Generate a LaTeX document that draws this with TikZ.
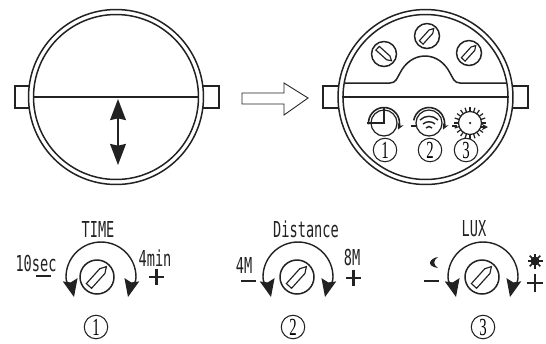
\documentclass[tikz,border=0pt]{standalone}
\usepackage{xcolor}
\usepackage{fontspec}
\usepackage{tikz}
\usetikzlibrary{arrows.meta}
\definecolor{inkcolor}{HTML}{222222}
\newfontfamily\labelfont[FakeStretch=0.62]{DejaVu Sans Mono}
\newfontfamily\digitfont[FakeStretch=0.6]{Liberation Serif}
\tikzset{
  ring/.style={draw=inkcolor, circle, line width=0.85pt, fill=white, inner sep=0pt},
  tabbox/.style={draw=inkcolor, rectangle, line width=0.65pt, minimum width=0.44cm, minimum height=0.44cm, inner sep=0pt},
  knob/.style={ring, minimum size=0.68cm},
  screw/.style={ring, minimum size=0.5cm},
  minidial/.style={ring, minimum size=0.52cm, line width=0.7pt},
  numbered/.style={draw=inkcolor, circle, line width=0.6pt, minimum size=0.47cm, inner sep=0pt, font=\digitfont\fontsize{14pt}{14pt}\selectfont},
  label/.style={inner sep=0pt, text=inkcolor, font=\labelfont\fontsize{12.5pt}{12.5pt}\selectfont},
  knobarc/.style={draw=inkcolor, line width=0.8pt, {Stealth[length=10pt,width=8.5pt,inset=1.5pt]}-{Stealth[length=10pt,width=8.5pt,inset=1.5pt]}},
  minicurve/.style={draw=inkcolor, line width=0.9pt, -{Stealth[length=3.5pt,width=3.5pt]}},
  slot/.pic={\draw[draw=inkcolor, line width=0.65pt] (-12,-3.5) -- (8,-3.5) -- (14,0) -- (8,3.5) -- (-12,3.5) -- cycle;},
}
\begin{document}
\begin{tikzpicture}[x=0.02cm, y=-0.02cm]
\useasboundingbox (0,0) rectangle (546,343);
\node[tabbox] (lefttaba) at (26,97) {};
\node[tabbox] (lefttabb) at (208,97) {};
\node[ring, minimum size=3.5cm] (leftouter) at (116,97) {};
\node[ring, minimum size=3.3cm] (leftinner) at (116,97) {};
\draw[draw=inkcolor, line width=0.85pt] (leftinner.west) -- (leftinner.east);
\coordinate (lefttop) at (118,99);
\coordinate (leftbot) at (118,165);
\draw[draw=inkcolor, line width=0.9pt, {Stealth[length=12pt,width=9pt,inset=1pt]}-{Stealth[length=12pt,width=9pt,inset=1pt]}] (lefttop) -- (leftbot);
\draw[draw=inkcolor, line width=0.5pt] (242,93) -- (284,93) -- (284,83) -- (308,98) -- (284,115) -- (284,104) -- (242,104) -- cycle;
\node[tabbox] (righttaba) at (334,97) {};
\node[tabbox] (righttabb) at (517,97) {};
\node[ring, minimum size=3.5cm] (rightouter) at (425.5,97) {};
\node[ring, minimum size=3.3cm] (rightinner) at (425.5,97) {};
\draw[draw=inkcolor, line width=0.85pt] (rightinner.west) -- (rightinner.east);
\draw[draw=inkcolor, line width=0.85pt] (345,83) -- (390,83) .. controls (396,83) and (397,78) .. (400,73) .. controls (405,63) and (414,56) .. (425,56) .. controls (436,56) and (445,63) .. (450,73) .. controls (453,78) and (454,83) .. (460,83) -- (506,83);
\node[screw] (screwa) at (384,54) {};
\node[screw] (screwb) at (427,36) {};
\node[screw] (screwc) at (469,53) {};
\pic[scale=0.72, rotate=-42] at (screwa) {slot};
\pic[scale=0.72, rotate=48] at (screwb) {slot};
\pic[scale=0.72, rotate=48] at (screwc) {slot};
\node[minidial] (minia) at (384,123) {};
\draw[minicurve] ([shift={(185:0.31cm)}]minia.center) arc[start angle=185, end angle=-25, radius=0.31cm];
\draw[draw=inkcolor, line width=1pt] (367,123) -- (384,123) -- (384,108);
\node[minidial] (minib) at (429,123) {};
\draw[minicurve] ([shift={(170:0.31cm)}]minib.center) arc[start angle=170, end angle=-25, radius=0.31cm];
\draw[draw=inkcolor, line width=1pt] (411,126) -- (416,126);
\draw[draw=inkcolor, line width=0.8pt] (420,120) .. controls (425,115) and (433,115) .. (438,120);
\draw[draw=inkcolor, line width=0.8pt] (423,124) .. controls (426,121) and (432,121) .. (435,124);
\draw[draw=inkcolor, line width=0.8pt] (426,128) .. controls (428,126) and (430,126) .. (432,128);
\node[minidial, minimum size=0.46cm] (minic) at (470,123) {};
\foreach \a in {0,18,...,342}{
  \draw[draw=inkcolor, line width=0.7pt] ([shift={(\a:0.23cm)}]minic.center) -- ([shift={(\a:0.32cm)}]minic.center);
}
\fill[inkcolor] (minic.center) circle[radius=0.025cm];
\draw[draw=inkcolor, line width=1pt] (452,126) -- (457,126);
\draw[draw=inkcolor, line width=1pt, -{Stealth[length=3.5pt,width=3.5pt]}] (481,127) -- (488,127);
\node[numbered] (numa) at (385,150) {1};
\node[numbered] (numb) at (430,150) {2};
\node[numbered] (numc) at (466,150) {3};
\node[knob] (timeknob) at (97,277) {};
\pic[rotate=48] at (timeknob) {slot};
\coordinate (timearc) at (101,277);
\draw[knobarc, shift={(timearc)}] (-27,20) .. controls (-29,11) and (-35,8) .. (-35,0) arc[start angle=180, end angle=0, radius=0.7cm] .. controls (35,8) and (29,11) .. (27,20);
\node[label] (timetext) at (98,229) {TIME};
\node[label] (timelow) at (36,263) {10sec};
\node[label] (timehigh) at (155,258) {4min};
\draw[draw=inkcolor, line width=1.5pt] (36,276) -- (51,276);
\draw[draw=inkcolor, line width=1.5pt] (149,277) -- (164,277) (156.5,269) -- (156.5,285);
\node[numbered] (knobnuma) at (96,327) {1};
\node[knob] (distknob) at (297,277) {};
\pic[rotate=48] at (distknob) {slot};
\coordinate (distarc) at (298,277);
\draw[knobarc, shift={(distarc)}] (-27,20) .. controls (-29,11) and (-35,8) .. (-35,0) arc[start angle=180, end angle=0, radius=0.7cm] .. controls (35,8) and (29,11) .. (27,20);
\node[label] (disttext) at (306,229) {Distance};
\node[label] (distlow) at (244,265) {4M};
\node[label] (disthigh) at (352,257) {8M};
\draw[draw=inkcolor, line width=1.5pt] (241,281) -- (256,281);
\draw[draw=inkcolor, line width=1.5pt] (346,278) -- (361,278) (353.5,270) -- (353.5,286);
\node[numbered] (knobnumb) at (293,327) {2};
\node[knob] (luxknob) at (482,277) {};
\pic[rotate=48] at (luxknob) {slot};
\coordinate (luxarc) at (483,277);
\draw[knobarc, shift={(luxarc)}] (-27,20) .. controls (-29,11) and (-35,8) .. (-35,0) arc[start angle=180, end angle=0, radius=0.7cm] .. controls (35,8) and (29,11) .. (27,20);
\node[label] (luxtext) at (474,229) {LUX};
\fill[inkcolor] (438,257) .. controls (430,258) and (425,266) .. (438,268) .. controls (433,265) and (433,260) .. (438,257) -- cycle;
\draw[draw=inkcolor, line width=1.5pt] (424,281) -- (439,281);
\fill[inkcolor] (535,261) circle[radius=0.09cm];
\foreach \a in {0,45,...,315}{
  \draw[draw=inkcolor, line width=0.9pt] ([shift={(\a:0.05cm)}]535,261) -- ([shift={(\a:0.15cm)}]535,261);
}
\draw[draw=inkcolor, line width=1.2pt] (527,283) -- (543,283) (535,274) -- (535,292);
\node[numbered] (knobnumc) at (483,327) {3};
\end{tikzpicture}
\end{document}
